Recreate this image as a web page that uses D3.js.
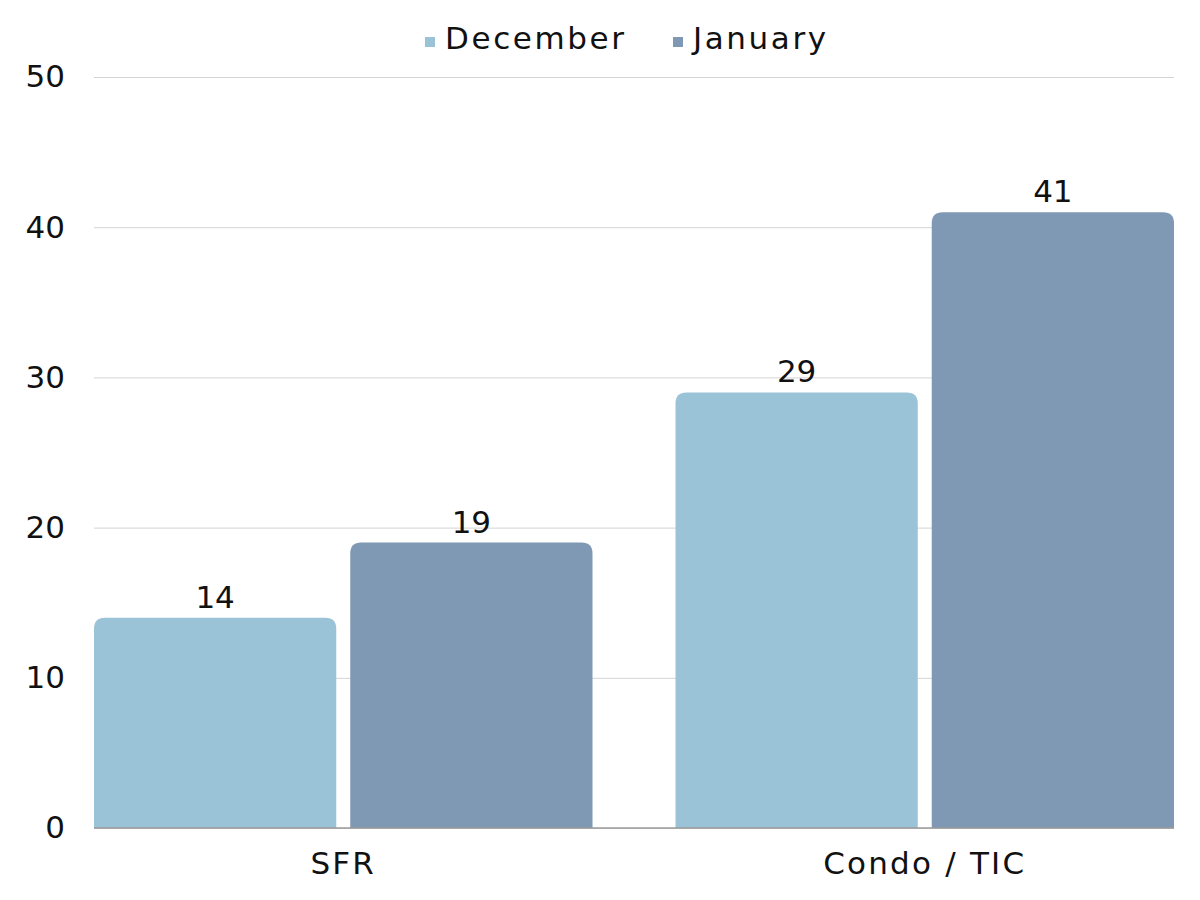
<!DOCTYPE html>
<html><head><meta charset="utf-8">
<script src="https://cdn.jsdelivr.net/npm/d3@7"></script>
<style>body{margin:0;background:#fff;} text{font-family:"DejaVu Sans",sans-serif;fill:#111;}</style>
</head><body><svg id="c" width="1200" height="900"></svg>
<script>
const categories = ["SFR", "Condo / TIC"];
const seriesNames = ["December", "January"];
const december = [14, 29];
const january = [19, 41];
const yTicks = [0, 10, 20, 30, 40, 50];
const colors = ["#9bc3d8", "#7f98b4"];

const svg = d3.select("#c");
const L = 94, R = 1174, T = 77, B = 828;
const FS = "31px";
const data = categories.map((c, i) => ({cat: c, vals: [december[i], january[i]]}));
const x0 = d3.scaleBand().domain(categories).range([L, R]).paddingInner(83/581.5).paddingOuter(0);
const x1 = d3.scaleBand().domain(seriesNames).range([0, x0.bandwidth()]).paddingInner(14/256.5).paddingOuter(0);
const y = d3.scaleLinear().domain([0, 50]).range([B, T]);

// grid
const yAxis = d3.axisLeft(y).tickValues(yTicks).tickSize(-(R - L)).tickPadding(29);
const ga = svg.append("g").attr("transform", `translate(${L},0)`).call(yAxis);
ga.select(".domain").remove();
ga.selectAll(".tick line").attr("stroke", "#d4d4d4").attr("stroke-width", 1);
ga.selectAll(".tick text").style("font-size", FS).attr("fill", "#111");

const rr = 11;
function barPath(x, yTop, w, h) {
  const r = Math.min(rr, h, w/2);
  return `M${x},${yTop+h}V${yTop+r}Q${x},${yTop} ${x+r},${yTop}H${x+w-r}Q${x+w},${yTop} ${x+w},${yTop+r}V${yTop+h}Z`;
}
const g = svg.selectAll("g.grp").data(data).join("g").attr("class", "grp")
  .attr("transform", d => `translate(${x0(d.cat)},0)`);
g.selectAll("path").data(d => d.vals.map((v, i) => ({name: seriesNames[i], v, i})))
  .join("path")
  .attr("d", d => barPath(x1(d.name), y(d.v), x1.bandwidth(), B - y(d.v)))
  .attr("fill", d => colors[d.i]);
g.selectAll("text.lbl").data(d => d.vals.map((v, i) => ({name: seriesNames[i], v, i})))
  .join("text").attr("class", "lbl")
  .attr("x", d => x1(d.name) + x1.bandwidth()/2)
  .attr("y", d => y(d.v) - 10)
  .attr("text-anchor", "middle")
  .style("font-size", FS)
  .text(d => d.v);

// baseline
svg.append("line").attr("x1", L).attr("x2", R).attr("y1", B).attr("y2", B).attr("stroke", "#9a9a9a").attr("stroke-width", 1.5);

// x axis labels
const xa = d3.axisBottom(x0).tickSize(0).tickPadding(24);
const gx = svg.append("g").attr("transform", `translate(0,${B})`).call(xa);
gx.select(".domain").remove();
gx.selectAll(".tick text").style("font-size", FS).style("letter-spacing", "2.2px").attr("fill", "#111").attr("dy", "0.71em");

// legend
const legendX = [425, 673];
const lg = svg.selectAll("g.leg").data(seriesNames).join("g").attr("class", "leg")
  .attr("transform", (d, i) => `translate(${legendX[i]},49)`);
lg.append("rect").attr("x", 0).attr("y", -12).attr("width", 10).attr("height", 10).attr("fill", (d, i) => colors[i]);
lg.append("text").attr("x", 20).attr("y", 0).style("font-size", FS).style("letter-spacing", "2.6px").text(d => d);
</script></body></html>
